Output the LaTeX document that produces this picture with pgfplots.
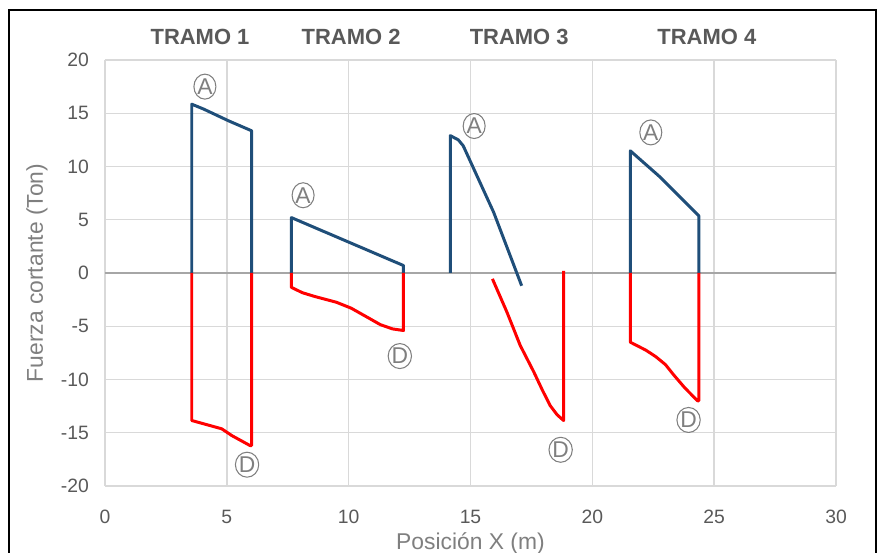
\documentclass[border=0pt]{standalone}
\usepackage{fontspec}
\setmainfont{Liberation Sans}
\usepackage{pgfplots}
\pgfplotsset{compat=1.18}

\definecolor{shearblue}{HTML}{1F4E79}
\definecolor{shearred}{HTML}{FF0000}
\definecolor{gridgray}{HTML}{D9D9D9}
\definecolor{txtgray}{HTML}{595959}
\definecolor{lblgray}{HTML}{7F7F7F}

\tikzset{circ/.style={ellipse, draw=lblgray, line width=0.6pt, inner sep=0pt,
    minimum width=0.44cm, minimum height=0.5cm, text=lblgray, font=\fontsize{13}{13}\selectfont},
  tramo/.style={text=txtgray, font=\bfseries\fontsize{12.5}{12.5}\selectfont}}
\usetikzlibrary{shapes.geometric}

\begin{document}
\begin{tikzpicture}
\useasboundingbox (-2.1,-1.34) rectangle (15.5,9.72);
\draw[black, line width=1.1pt] (-1.92,-1.6) -- (-1.92,9.52) -- (15.42,9.52) -- (15.42,-1.6);
\begin{axis}[
    at={(0,0)}, anchor=south west,
    scale only axis,
    width=14.62cm, height=8.52cm,
    xmin=0, xmax=30, ymin=-20, ymax=20,
    xtick={0,5,...,30},
    ytick={-20,-15,...,20},
    grid=major,
    grid style={gridgray, line width=0.8pt},
    extra y ticks={0},
    extra y tick labels={},
    extra y tick style={grid style={black!35, line width=0.9pt}},
    axis line style={draw=none},
    major tick length=0pt,
    /pgf/number format/assume math mode=true,
    tick label style={text=txtgray, font=\fontsize{11}{11}\selectfont},
    yticklabel style={xshift=-0.2cm},
    xticklabel style={yshift=-0.35cm},
    xlabel={Posición X (m)},
    ylabel={Fuerza cortante (Ton)},
    label style={text=lblgray, font=\fontsize{13}{13}\selectfont},
    x label style={at={(axis description cs:0.5,-0.134)}, anchor=center},
    y label style={at={(axis description cs:-0.093,0.5)}, anchor=center},
    clip=false,
    line join=round,
]
% Tramo 1
\addplot[shearblue, line width=1.7pt] coordinates {
    (3.56,0) (3.56,15.85) (4.04,15.4) (5.06,14.3) (6.02,13.35) (6.02,0)};
\addplot[shearred, line width=1.7pt] coordinates {
    (3.56,0) (3.56,-13.85) (4.79,-14.63) (5.2,-15.26) (5.95,-16.2) (6.02,-16.2) (6.02,0)};
% Tramo 2
\addplot[shearblue, line width=1.7pt] coordinates {
    (7.65,0) (7.65,5.2) (12.25,0.7) (12.25,0)};
\addplot[shearred, line width=1.7pt] coordinates {
    (7.65,0) (7.65,-1.35) (8.1,-1.85) (8.6,-2.2) (9.5,-2.75) (10.1,-3.3) (10.8,-4.2)
    (11.3,-4.85) (11.8,-5.25) (12.25,-5.4) (12.25,0)};
% Tramo 3
\addplot[shearblue, line width=1.7pt] coordinates {
    (14.17,0) (14.17,12.9) (14.5,12.5) (14.7,11.95) (15.95,5.7) (17.1,-1.2)};
\addplot[shearred, line width=1.7pt] coordinates {
    (15.9,-0.55) (16.5,-3.7) (17.04,-6.8) (17.6,-9.3) (17.95,-11.0) (18.27,-12.45)
    (18.55,-13.3) (18.82,-13.85) (18.82,0.2)};
% Tramo 4
\addplot[shearblue, line width=1.7pt] coordinates {
    (21.56,0) (21.56,11.47) (22.8,8.97) (24.37,5.37) (24.37,0)};
\addplot[shearred, line width=1.7pt] coordinates {
    (21.56,0) (21.56,-6.5) (22.2,-7.25) (22.6,-7.85) (23.0,-8.6) (23.35,-9.6) (23.8,-10.8)
    (24.32,-12.0) (24.37,-12.0) (24.37,0)};

\node[tramo] at (axis cs:3.9,22.2) {TRAMO 1};
\node[tramo] at (axis cs:10.1,22.2) {TRAMO 2};
\node[tramo] at (axis cs:17.0,22.2) {TRAMO 3};
\node[tramo] at (axis cs:24.7,22.2) {TRAMO 4};

\node[circ] at (axis cs:4.1,17.5) {A};
\node[circ] at (axis cs:5.83,-18.0) {D};
\node[circ] at (axis cs:8.13,7.3) {A};
\node[circ] at (axis cs:12.1,-7.8) {D};
\node[circ] at (axis cs:15.15,13.8) {A};
\node[circ] at (axis cs:18.7,-16.6) {D};
\node[circ] at (axis cs:22.4,13.2) {A};
\node[circ] at (axis cs:23.95,-13.8) {D};
\end{axis}
\end{tikzpicture}
\end{document}
